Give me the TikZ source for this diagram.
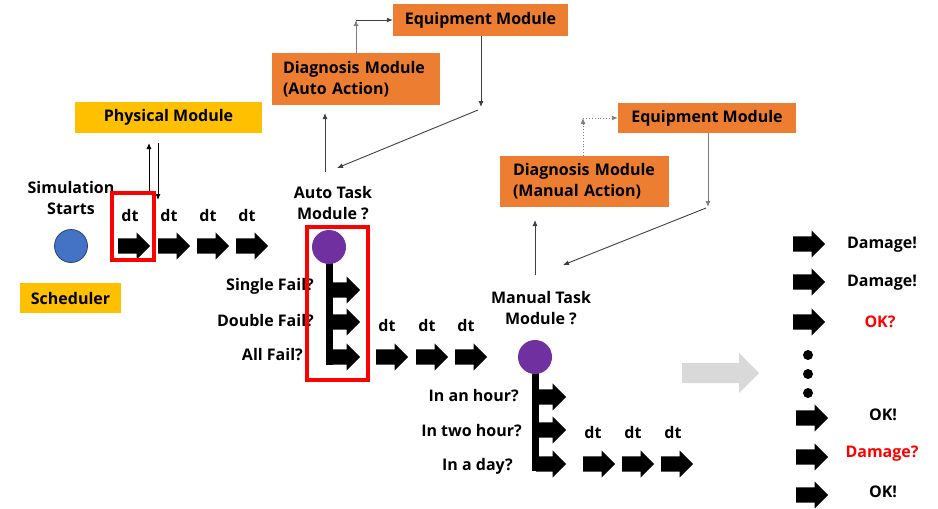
\documentclass[tikz,border=0pt]{standalone}
\usepackage{fontspec}
\IfFontExistsTF{Open Sans Bold}{\setmainfont{Open Sans}[BoldFont={Open Sans Bold}]}{%
  \IfFontExistsTF{Noto Sans Bold}{\setmainfont{Noto Sans}[BoldFont={Noto Sans Bold}]}{\setmainfont{DejaVu Sans}}}
\usetikzlibrary{shapes.arrows,arrows.meta}
\definecolor{ylw}{HTML}{FFC000}
\definecolor{org}{HTML}{ED7D31}
\definecolor{blu}{HTML}{4472C4}
\definecolor{pur}{HTML}{7030A0}
\definecolor{gry}{HTML}{D9D9D9}
\definecolor{lin}{HTML}{404040}
\tikzset{
  lbl/.style={font=\bfseries\fontsize{16}{21}\selectfont, inner sep=0pt, align=center},
  redlbl/.style={lbl, text=red},
  ybox/.style={fill=ylw, inner sep=0pt, font=\bfseries\fontsize{16}{21}\selectfont},
  obox/.style={fill=org, inner sep=0pt, font=\bfseries\fontsize{16}{21}\selectfont, align=left},
  blk/.style={single arrow, fill=black, draw=none, inner xsep=0pt, inner ysep=7.5pt,
    minimum height=32pt, single arrow head extend=6pt, anchor=tail},
  brk/.style={blk, minimum height=30pt},
  conn/.style={draw=lin, line width=0.9pt, -{Latex[length=6pt,width=5pt]}},
  dconn/.style={conn, draw=gray, dotted},
  hilite/.style={draw=red, line width=4pt},
  dot/.style={circle, fill=black, inner sep=0pt, minimum size=10pt},
}
\begin{document}
\begin{tikzpicture}[x=1pt,y=-1pt]
\path[use as bounding box] (0,0) rectangle (938,509);

% yellow boxes
\node[ybox, minimum width=187pt, minimum height=31pt] (pm) at (168.5,117.5) {Physical Module};
\node[ybox, minimum width=101pt, minimum height=30pt] (sch) at (70.5,298) {Scheduler};

% orange boxes
\node[obox, minimum width=175pt, minimum height=32pt, align=center] (eq1) at (480.5,20) {Equipment Module};
\node[obox, minimum width=168pt, minimum height=52pt, text width=146pt] (dg1) at (356,79) {Diagnosis Module\\(Auto Action)};
\node[obox, minimum width=178pt, minimum height=30pt, align=center] (eq2) at (707,118) {Equipment Module};
\node[obox, minimum width=169pt, minimum height=51pt, text width=143pt] (dg2) at (584.5,181.5) {Diagnosis Module\\(Manual Action)};

% start
\node[lbl] (sim) at (71,198) {Simulation\\Starts};
\node[circle, fill=blu, draw=blu!60!black, line width=0.8pt, minimum size=33pt, inner sep=0pt] (start) at (71,246) {};

% first row
\foreach \x/\dx [count=\i] in {118/130,158/169,197/208,236/247}{
  \node[blk] (r1a\i) at (\x,246) {};
  \node[lbl] (r1d\i) at (\dx,215) {dt};
}
\coordinate (pmup1) at (149,193);
\coordinate (pmup2) at (149,143);
\coordinate (pmdn1) at (158,143);
\coordinate (pmdn2) at (158,200);
\draw[conn, draw=black] (pmup1) -- (pmup2);
\draw[conn, draw=black] (pmdn1) -- (pmdn2);
\draw[hilite] (112,193) rectangle (154,260);

% auto task
\node[lbl] (atm) at (333,203.5) {Auto Task\\Module ?};
\fill[black] (325.5,262) rectangle (332.5,364.5);
\node[circle, fill=pur, minimum size=34pt, inner sep=0pt] (ac) at (329,247) {};
\node[brk] (b1) at (330,290) {};
\node[brk] (b2) at (330,322) {};
\node[brk] (b3) at (330,357) {};
\node[lbl, anchor=east] (sf) at (314,286) {Single Fail?};
\node[lbl, anchor=east] (df) at (314,321) {Double Fail?};
\node[lbl, anchor=east] (af) at (303,355) {All Fail?};
\draw[hilite] (307,227) rectangle (368,380);

\coordinate (aup1) at (325,172);
\coordinate (aup2) at (325,113);
\draw[conn] (aup1) -- (aup2);
\coordinate (dg1top) at (356,53);
\coordinate (dg1c) at (356,20);
\draw[conn, draw=gray] (dg1top) -- (dg1c);
\draw[conn] (dg1c) -- (eq1.west |- dg1c);
\coordinate (eq1bot) at (481,36);
\coordinate (eq1c) at (481,107);
\coordinate (eq1d) at (478,110);
\coordinate (atarget) at (337,168);
\draw[conn] (eq1bot) -- (eq1c);
\draw[conn] (eq1d) -- (atarget);

% second row
\foreach \x/\dx [count=\i] in {376/387,416/427,455/466}{
  \node[blk] (r2a\i) at (\x,357) {};
  \node[lbl] (r2d\i) at (\dx,325) {dt};
}

% manual task
\node[lbl] (mtm) at (541,308) {Manual Task\\Module ?};
\fill[black] (532,372) rectangle (538.5,471);
\node[circle, fill=pur, minimum size=34pt, inner sep=0pt] (mc) at (535,357) {};
\node[brk] (m1) at (536,397) {};
\node[brk] (m2) at (536,430) {};
\node[brk] (m3) at (536,464) {};
\node[lbl, anchor=east] (ih) at (519,396) {In an hour?};
\node[lbl, anchor=east] (ith) at (522,431) {In two hour?};
\node[lbl, anchor=east] (id) at (513,466) {In a day?};

\coordinate (mup1) at (535,275);
\coordinate (mup2) at (535,220);
\draw[conn] (mup1) -- (mup2);
\coordinate (dg2top) at (583,156);
\coordinate (dg2c) at (583,118);
\draw[dconn] (dg2top) -- (dg2c);
\draw[dconn] (dg2c) -- (eq2.west |- dg2c);
\coordinate (eq2bot) at (708,133);
\coordinate (eq2c) at (708,207);
\coordinate (eq2d) at (706,208);
\coordinate (mtarget) at (563,265);
\draw[conn, draw=gray] (eq2bot) -- (eq2c);
\draw[conn] (eq2d) -- (mtarget);

% third row
\foreach \x/\dx [count=\i] in {583/593,622/633,661/673}{
  \node[blk] (r3a\i) at (\x,464) {};
  \node[lbl] (r3d\i) at (\dx,432) {dt};
}

% big gray arrow
\node[single arrow, fill=gry, draw=none, inner xsep=0pt, inner ysep=10pt, minimum height=77pt,
  single arrow head extend=10pt, anchor=tail] (big) at (682,373) {};

% results
\node[blk] (o1) at (793,244) {};
\node[blk] (o2) at (793,282) {};
\node[blk] (o3) at (793,322) {};
\node[blk] (o4) at (796,418) {};
\node[blk] (o5) at (796,457) {};
\node[blk] (o6) at (796,495) {};
\node[dot] (d1) at (808,355) {};
\node[dot] (d2) at (808,374) {};
\node[dot] (d3) at (808,393) {};
\node[lbl] (t1) at (882,245) {Damage!};
\node[lbl] (t2) at (882,283) {Damage!};
\node[redlbl] (t3) at (880,322) {OK?};
\node[lbl] (t4) at (883,415) {OK!};
\node[redlbl] (t5) at (882,454) {Damage?};
\node[lbl] (t6) at (883,492) {OK!};
\end{tikzpicture}
\end{document}
